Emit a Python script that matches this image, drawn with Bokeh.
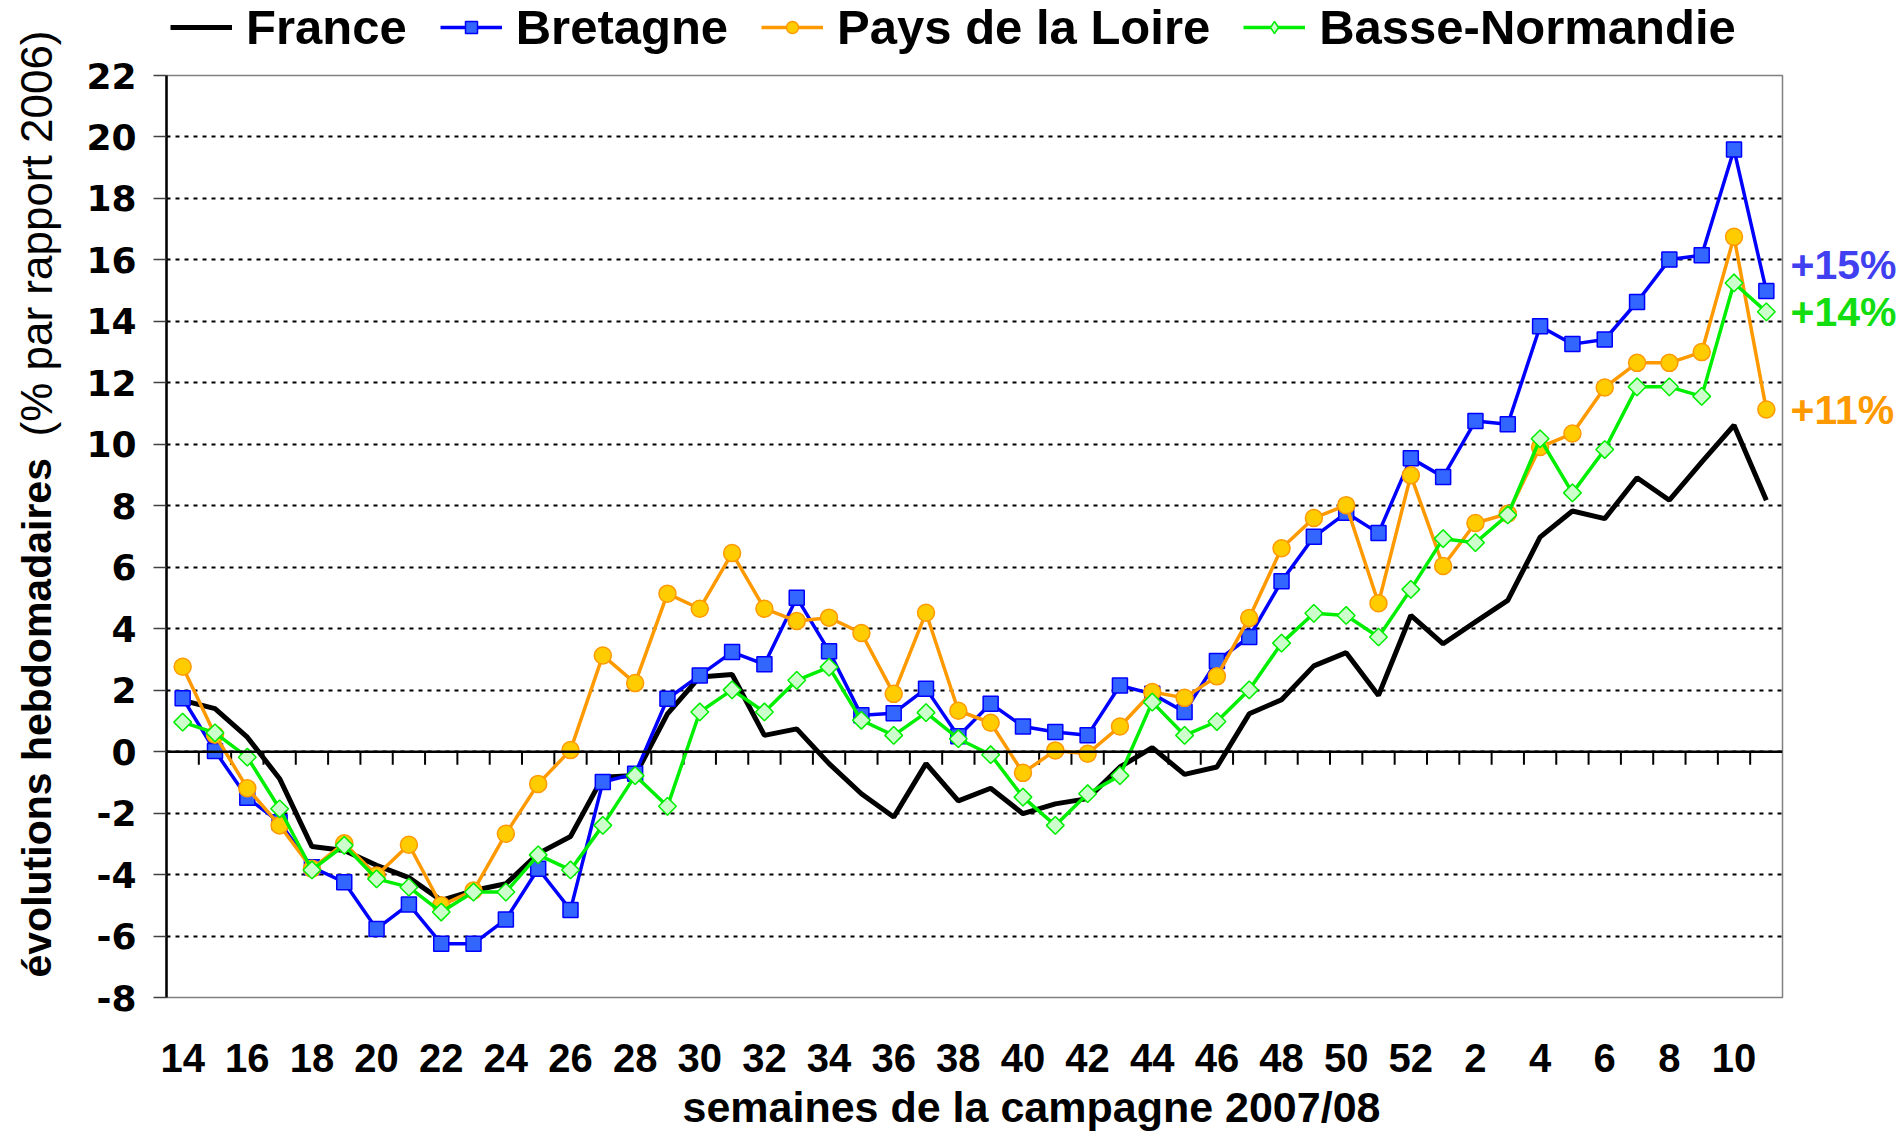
import math
from bokeh.plotting import figure
from bokeh.layouts import row, column
from bokeh.models import (Range1d, FixedTicker, Span, Label, Legend, LegendItem, Title)
from bokeh.embed import file_html
from bokeh.resources import INLINE

# ---------------- data ----------------
weeks = list(range(14, 53)) + list(range(1, 12))

france = [1.67, 1.40, 0.47, -0.88, -3.09, -3.22, -3.70, -4.10, -4.84, -4.52,
          -4.30, -3.32, -2.76, -0.83, -0.78, 1.23, 2.43, 2.51, 0.53, 0.74,
          -0.39, -1.37, -2.13, -0.39, -1.60, -1.19, -2.02, -1.70, -1.53, -0.50,
          0.13, -0.74, -0.50, 1.23, 1.69, 2.79, 3.22, 1.83, 4.43, 3.51,
          4.22, 4.92, 6.98, 7.83, 7.58, 8.91, 8.18, 9.42, 10.62, 8.18]

bretagne = [1.74, 0.02, -1.50, -2.30, -3.76, -4.25, -5.77, -4.97, -6.25, -6.25,
            -5.46, -3.81, -5.15, -0.99, -0.72, 1.72, 2.48, 3.24, 2.84, 5.01,
            3.27, 1.18, 1.25, 2.05, 0.50, 1.56, 0.82, 0.64, 0.53, 2.15,
            1.88, 1.29, 2.95, 3.73, 5.54, 6.99, 7.77, 7.11, 9.55, 8.94,
            10.76, 10.65, 13.84, 13.26, 13.41, 14.63, 16.01, 16.15, 19.59, 14.99]

loire = [2.76, 0.55, -1.19, -2.40, -3.81, -2.98, -4.03, -3.03, -5.00, -4.52,
         -2.67, -1.05, 0.05, 3.13, 2.23, 5.14, 4.65, 6.46, 4.65, 4.25,
         4.36, 3.86, 1.88, 4.52, 1.33, 0.94, -0.69, 0.04, -0.07, 0.82,
         1.94, 1.75, 2.45, 4.35, 6.62, 7.60, 8.02, 4.83, 8.99, 6.04,
         7.44, 7.74, 9.91, 10.35, 11.85, 12.65, 12.65, 13.00, 16.75, 11.13]

basse_normandie = [0.96, 0.61, -0.18, -1.86, -3.85, -3.05, -4.14, -4.41, -5.22, -4.57,
                   -4.57, -3.36, -3.85, -2.40, -0.78, -1.78, 1.29, 2.01, 1.29, 2.32,
                   2.75, 1.02, 0.53, 1.27, 0.42, -0.10, -1.48, -2.40, -1.37, -0.78,
                   1.61, 0.53, 0.98, 2.01, 3.53, 4.50, 4.43, 3.73, 5.28, 6.93,
                   6.80, 7.70, 10.18, 8.42, 9.83, 11.87, 11.87, 11.56, 15.25, 14.31]

series_names = ["France", "Bretagne", "Pays de la Loire", "Basse-Normandie"]
y_ticks = list(range(-8, 23, 2))
y_title_bold = "évolutions hebdomadaires"
y_title_regular = "(% par rapport 2006)"
x_title = "semaines de la campagne 2007/08"

# ---------------- styles ----------------
FR = dict(line_color="black", line_width=5)
BR_L = dict(line_color="#0000FF", line_width=3.5)
BR_M = dict(marker="square", size=15, fill_color="#3366FF", line_color="#0000FF", line_width=1.5)
PL_L = dict(line_color="#FF9900", line_width=3.5)
PL_M = dict(marker="circle", size=17, fill_color="#FFCC00", line_color="#FF9900", line_width=1.5)
BN_L = dict(line_color="#00EE00", line_width=3.5)
BN_M = dict(fill_color="#CCFFCC", line_color="#00EE00", line_width=1.5)

# ---------------- layout geometry ----------------
H = 1136
HT = 55                      # legend strip height
WL, WR = 70, 120
WM = 1904 - WL - WR
MT, MB = 75, 139
ML, MR = 96, 2
idx = list(range(len(weeks)))
n = len(weeks)
y0, y1 = -8, 22
frame_h = H - MT - MB

p = figure(width=WM, height=H - HT, output_backend="svg", toolbar_location=None,
           x_range=Range1d(-0.5, n - 0.5), y_range=Range1d(y0, y1),
           min_border_left=ML, min_border_right=MR, min_border_top=MT - HT,
           min_border_bottom=MB)
p.background_fill_color = "white"
p.border_fill_color = "white"
p.outline_line_color = "#808080"
p.outline_line_width = 1.5

# y axis
ya = p.yaxis[0]
ya.ticker = FixedTicker(ticks=y_ticks)
ya.major_label_overrides = {t: str(t) for t in y_ticks}
ya.axis_line_color = "black"
ya.axis_line_width = 2.5
ya.major_tick_out = 13
ya.major_tick_in = 0
ya.major_tick_line_color = "#404040"
ya.major_tick_line_width = 1.5
ya.minor_tick_line_color = None
ya.major_label_standoff = 17
ya.major_label_text_font = "DejaVu Sans"
ya.major_label_text_font_style = "bold"
ya.major_label_text_font_size = "36px"
ya.major_label_text_color = "black"

# x axis (labels only, every 2nd week)
xa = p.xaxis[0]
xa.ticker = FixedTicker(ticks=idx[::2])
xa.major_label_overrides = {i: str(weeks[i]) for i in idx[::2]}
xa.axis_line_color = None
xa.major_tick_line_color = None
xa.minor_tick_line_color = None
xa.major_tick_out = 0
xa.major_tick_in = 0
xa.major_label_standoff = 46
xa.major_label_text_font = "Liberation Sans"
xa.major_label_text_font_style = "bold"
xa.major_label_text_font_size = "40px"
xa.major_label_text_color = "black"

# x title
p.add_layout(Title(text=x_title, align="left", offset=516, standoff=12,
                   vertical_align="bottom", text_font="Liberation Sans",
                   text_font_style="bold", text_font_size="43px",
                   text_color="black"), "below")

# grid
p.xgrid.grid_line_color = None
p.ygrid.ticker = FixedTicker(ticks=y_ticks)
p.ygrid.grid_line_color = "black"
p.ygrid.grid_line_dash = "4 5"
p.ygrid.grid_line_width = 2

# zero axis line with category tick marks
p.add_layout(Span(location=0, dimension="width", line_color="black", line_width=2.5))
tick_len = 13 / frame_h * (y1 - y0)
bx = [i + 0.5 for i in idx[:-1]]
p.segment(x0=bx, y0=[0] * len(bx), x1=bx, y1=[-tick_len] * len(bx),
          line_color="black", line_width=2)

# ---------------- series ----------------
p.line(idx, france, **FR)
p.line(idx, bretagne, **BR_L)
p.scatter(idx, bretagne, **BR_M)
p.line(idx, loire, **PL_L)
p.scatter(idx, loire, **PL_M)
p.line(idx, basse_normandie, **BN_L)
p.scatter(idx, basse_normandie, marker="square", size=12.5, angle=math.pi / 4, **BN_M)

# ---------------- legend strip (above the plot) ----------------
# the same series are drawn here outside the visible y range; only the legend keys show
ts = figure(width=WM, height=HT, output_backend="svg", toolbar_location=None,
            x_range=p.x_range, y_range=Range1d(1000, 1001),
            x_axis_location=None, y_axis_location=None,
            min_border_left=ML, min_border_right=MR, min_border_top=0, min_border_bottom=0)
ts.outline_line_color = None
ts.xgrid.visible = False
ts.ygrid.visible = False
k_fr = ts.line(idx, france, **FR)
k_br = [ts.line(idx, bretagne, **BR_L), ts.scatter(idx, bretagne, **BR_M)]
k_pl = [ts.line(idx, loire, **PL_L), ts.scatter(idx, loire, **PL_M)]
k_bn = [ts.line(idx, basse_normandie, **BN_L),
        ts.scatter(idx, basse_normandie, marker="diamond", size=17, **BN_M)]

legend = Legend(items=[
    LegendItem(label=series_names[0], renderers=[k_fr]),
    LegendItem(label=series_names[1], renderers=k_br),
    LegendItem(label=series_names[2], renderers=k_pl),
    LegendItem(label=series_names[3], renderers=k_bn),
], orientation="horizontal", location=(4, 0))
legend.label_text_font = "Liberation Sans"
legend.label_text_font_style = "bold"
legend.label_text_font_size = "49px"
legend.label_text_color = "black"
legend.glyph_width = 62
legend.glyph_height = 30
legend.label_standoff = 14
legend.spacing = 33
legend.padding = 0
legend.margin = 0
legend.border_line_color = None
legend.background_fill_alpha = 0
ts.add_layout(legend)

# ---------------- left strip: y-axis title ----------------
pl = figure(width=WL, height=H, output_backend="svg", toolbar_location=None,
            x_axis_location=None, y_axis_location=None,
            min_border_left=0, min_border_right=0, min_border_top=0, min_border_bottom=0)
pl.outline_line_color = None
pl.xgrid.visible = False
pl.ygrid.visible = False
pl.add_layout(Label(x=36, y=159, x_units="screen", y_units="screen", angle=math.pi / 2,
                    text=y_title_bold, text_font="Liberation Sans",
                    text_font_style="bold", text_font_size="41px", text_align="left",
                    text_baseline="middle", text_color="black"))
pl.add_layout(Label(x=36, y=1106, x_units="screen", y_units="screen", angle=math.pi / 2,
                    text=y_title_regular, text_font="Liberation Sans",
                    text_font_style="normal", text_font_size="44px", text_align="right",
                    text_baseline="middle", text_color="black"))

# ---------------- right strip: end-of-series labels ----------------
pr = figure(width=WR, height=H, output_backend="svg", toolbar_location=None,
            x_range=Range1d(0, 1), y_range=p.y_range,
            x_axis_location=None, y_axis_location=None,
            min_border_left=0, min_border_right=0, min_border_top=MT, min_border_bottom=MB)
pr.outline_line_color = None
pr.xgrid.visible = False
pr.ygrid.visible = False
for vals, col, dy in [(bretagne, "#4040F0", 0.84), (basse_normandie, "#11DD11", 0.0),
                      (loire, "#FF9900", 0.0)]:
    pr.add_layout(Label(x=6, y=vals[-1] + dy, x_units="screen", y_units="data",
                        text="+%d%%" % round(vals[-1]), text_color=col,
                        text_font="Liberation Sans", text_font_style="bold",
                        text_font_size="41px", text_align="left",
                        text_baseline="middle"))

layout = row(column(pl), column(ts, p), column(pr))
open("out.html", "w").write(file_html(layout, INLINE))
